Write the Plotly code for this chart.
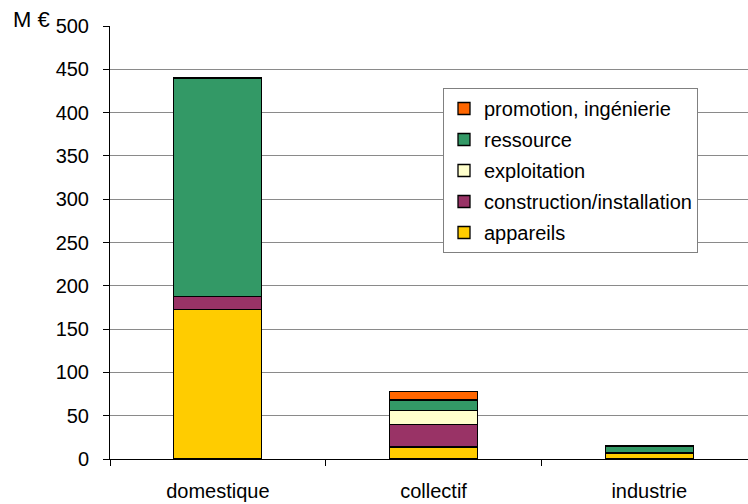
import plotly.graph_objects as go

# Market breakdown by sector (M €)
categories = ["domestique", "collectif", "industrie"]
appareils = [173, 14, 7]
construction = [15, 26, 0]
exploitation = [0, 16, 0]
ressource = [252, 12, 7.5]
promotion = [0, 10, 1]

series = [
    ("appareils", appareils, "#FFCC00"),
    ("construction/installation", construction, "#993366"),
    ("exploitation", exploitation, "#FFFFCC"),
    ("ressource", ressource, "#339966"),
    ("promotion, ingénierie", promotion, "#FF6600"),
]

W, H = 748, 504
L, R, T, B = 110, 0, 26, 45
FONT = "Liberation Sans, Arial, sans-serif"

fig = go.Figure()
for i, (name, vals, color) in enumerate(series):
    # empty segments are left out so they draw no outline
    shown = [v if v else None for v in vals]
    fig.add_trace(go.Bar(
        x=categories, y=shown, name=name,
        marker=dict(color=color, line=dict(color="black", width=1.3)),
        width=0.408, legendgroup=name, legendrank=100 - i,
    ))

pw = W - L - R
ph = H - T - B

fig.update_layout(
    width=W, height=H,
    margin=dict(l=L, r=R, t=T, b=B, pad=0, autoexpand=False),
    barmode="stack",
    plot_bgcolor="white", paper_bgcolor="white",
    font=dict(family=FONT, size=20, color="black"),
    showlegend=True,
    legend=dict(
        x=(443 - L) / pw, y=(H - B - 88) / ph, xanchor="left", yanchor="top",
        traceorder="grouped", tracegroupgap=2,
        bordercolor="#808080", borderwidth=1, bgcolor="white",
        font=dict(family=FONT, size=20, color="black"),
    ),
    xaxis=dict(
        type="category", range=[-0.5, 2.458], tickson="boundaries",
        ticks="outside", ticklen=6, tickcolor="black",
        showline=True, linecolor="black", linewidth=1,
        showgrid=False, ticklabelstandoff=14, automargin=False,
        tickfont=dict(family=FONT, size=20, color="black"),
    ),
    yaxis=dict(
        range=[0, 500], dtick=50, tick0=0,
        ticks="outside", ticklen=6, tickcolor="black",
        showline=True, linecolor="black", linewidth=1,
        showgrid=True, gridcolor="#8a8a8a", gridwidth=1,
        zeroline=False, ticklabelstandoff=10, automargin=False,
        tickfont=dict(family=FONT, size=20, color="black"),
    ),
    annotations=[dict(
        text="M €", xref="paper", yref="paper",
        x=(11 - L) / pw, y=(H - B - 20) / ph,
        xanchor="left", yanchor="middle", showarrow=False,
        font=dict(family=FONT, size=22, color="black"),
    )],
)

fig.write_html("out.html")
